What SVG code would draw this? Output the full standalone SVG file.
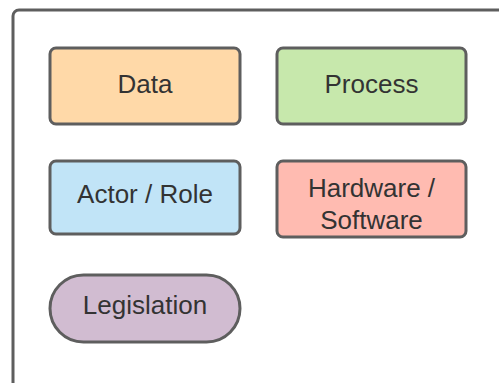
<svg xmlns="http://www.w3.org/2000/svg" width="499" height="383" viewBox="0 0 499 383">
<style>
.box{stroke:#5e5e5e;stroke-width:3}
.lbl{font-family:"Liberation Sans",Arial,sans-serif;font-size:26px;fill:#333333;text-anchor:middle}
</style>
<rect width="499" height="383" fill="#ffffff"/>
<g id="container">
<rect x="13" y="10" width="520" height="420" rx="6" fill="#ffffff" class="box"/>
</g>
<g id="connectors"></g>
<g id="data">
<rect x="50" y="48" width="190" height="76" rx="6" fill="#ffd9a8" class="box"/>
<text x="145" y="93" class="lbl">Data</text>
</g>
<g id="process">
<rect x="277" y="48" width="189" height="76" rx="6" fill="#c7e8ac" class="box"/>
<text x="371.5" y="93" class="lbl">Process</text>
</g>
<g id="actor">
<rect x="50" y="161" width="190" height="73" rx="6" fill="#c1e4f7" class="box"/>
<text x="145" y="202.5" class="lbl">Actor / Role</text>
</g>
<g id="hardware">
<rect x="277" y="161" width="189" height="76" rx="6" fill="#ffbbb1" class="box"/>
<text x="371.5" y="196.5" class="lbl">Hardware /</text>
<text x="371.5" y="229" class="lbl">Software</text>
</g>
<g id="legislation">
<rect x="50" y="275" width="190" height="67" rx="33.5" fill="#d1bcd1" class="box"/>
<text x="145" y="314" class="lbl">Legislation</text>
</g>
</svg>
